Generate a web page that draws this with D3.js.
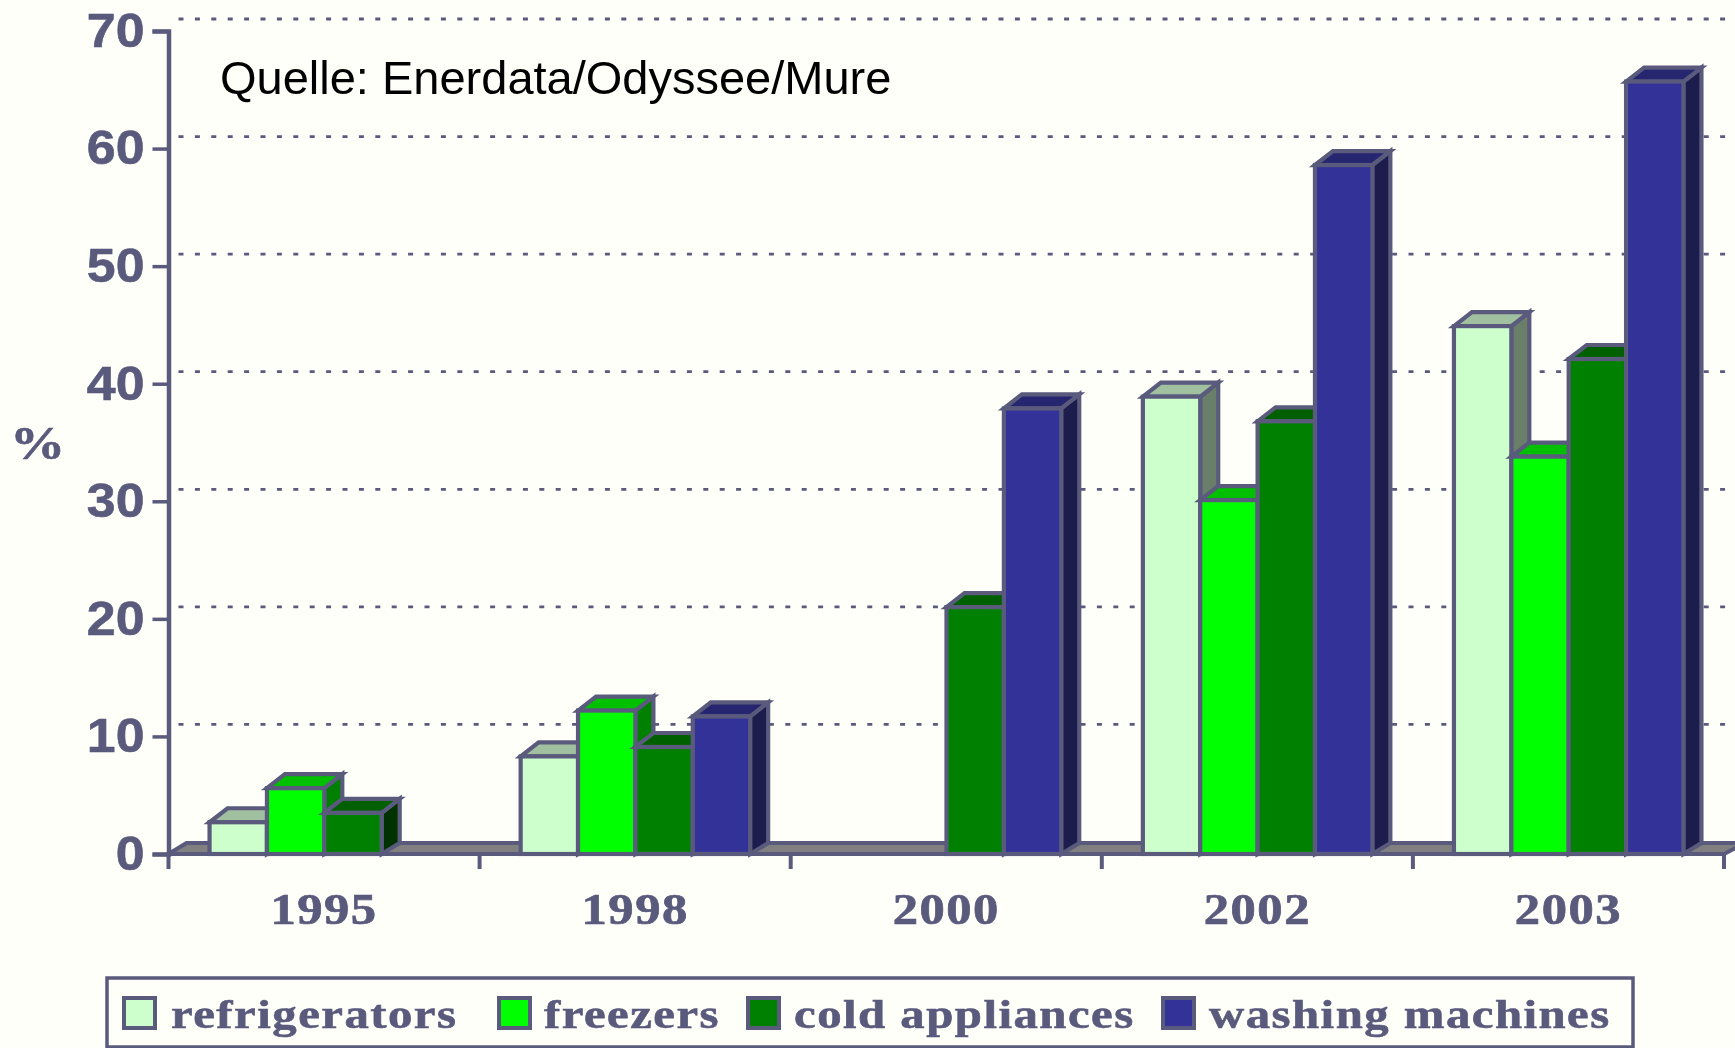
<!DOCTYPE html>
<html><head><meta charset="utf-8">
<script src="https://cdn.jsdelivr.net/npm/d3@7/dist/d3.min.js"></script>
<style>html,body{margin:0;padding:0;background:#fffffa;overflow:hidden}svg{display:block}</style>
</head><body><svg id="c" width="1735" height="1048"></svg>
<script>
const categories=["1995","1998","2000","2002","2003"];
const seriesNames=["refrigerators","freezers","cold appliances","washing machines"];
const refrigerators=[2.7,8.3,null,38.9,44.9];
const freezers=[5.6,12.2,null,30.1,33.8];
const coldAppliances=[3.5,9.1,21,36.8,42.1];
const washingMachines=[null,11.7,37.9,58.6,65.7];
const yTicks=[0,10,20,30,40,50,60,70];
const seriesValues=[refrigerators,freezers,coldAppliances,washingMachines];
const fronts=["#ccffcc","#00ff00","#008000","#333399"];
const tops=["#a0c0a0","#00c000","#006000","#26266f"];
const sides=["#6b7f6b","#008000","#003300","#1a1a4d"];
const ink="#5a5a7d";
const svg=d3.select("#c");
const defs=svg.append("defs");
defs.append("filter").attr("id","soft").attr("filterUnits","userSpaceOnUse").attr("x",0).attr("y",0).attr("width",1735).attr("height",1048)
  .append("feGaussianBlur").attr("stdDeviation",0.7);
const root=svg.append("g").attr("filter","url(#soft)");
const x=d3.scaleBand().domain(categories).range([168.5,1724]);
const y=d3.scaleLinear().domain([0,70]).range([854,31]);
const bar=d3.scaleBand().domain(d3.range(4)).range([-114.5,115]);
const dx=18,dy=14,fy=11,sw=4.2;
// grid
root.append("g").selectAll("path").data(yTicks.slice(1)).join("path")
  .attr("d",d=>`M${x.range()[0]+10},${y(d)-dy+2}L${x.range()[0]+18},${y(d)-fy-1}H1735`)
  .attr("fill","none").attr("stroke",ink).attr("stroke-width",2.8).attr("stroke-dasharray","5 11.4");
// floor
root.append("path").attr("d",`M${x.range()[0]},${y(0)}L${x.range()[0]+dx},${y(0)-fy}H1745L1724,${y(0)}Z`)
  .attr("fill","#808080").attr("stroke",ink).attr("stroke-width",sw);
// bars
seriesValues.forEach((vals,s)=>{
  const g=root.append("g");
  categories.forEach((c,i)=>{
    const v=vals[i]; if(v==null) return;
    const x0=x(c)+x.bandwidth()/2+bar(s),w=bar.bandwidth(),t=y(v),b=y(0);
    g.append("path").attr("d",`M${x0+w},${t}l${dx},${-dy}V${b-fy}L${x0+w},${b}Z`).attr("fill",sides[s]).attr("stroke",ink).attr("stroke-width",sw);
    g.append("path").attr("d",`M${x0},${t}l${dx},${-dy}h${w}l${-dx},${dy}Z`).attr("fill",tops[s]).attr("stroke",ink).attr("stroke-width",sw);
    g.append("rect").attr("x",x0).attr("y",t).attr("width",w).attr("height",b-t).attr("fill",fronts[s]).attr("stroke",ink).attr("stroke-width",sw);
  });
});
// axes
const ax=root.append("g").attr("transform",`translate(168.5,0)`).call(d3.axisLeft(y).tickValues(yTicks).tickSize(16).tickPadding(8));
ax.select(".domain").attr("stroke",ink).attr("stroke-width",4.5);
ax.selectAll("line").attr("stroke",ink).attr("stroke-width",3.5);
ax.selectAll("text").attr("fill",ink).attr("stroke",ink).attr("stroke-width",0.6).attr("font-family","Liberation Sans").attr("font-weight","bold").attr("font-size",48)
  .attr("transform","translate(-24,0) scale(1.08,1) translate(24,0)");
const xTickAt=[...categories.map(c=>x(c)),x.range()[1]];
root.append("g").selectAll("line").data(xTickAt).join("line").attr("x1",d=>d).attr("x2",d=>d).attr("y1",854).attr("y2",869).attr("stroke",ink).attr("stroke-width",4);
const xa=root.append("g").attr("transform","translate(0,854)").call(d3.axisBottom(x).tickSize(0).tickPadding(0));
xa.select(".domain").remove();
xa.selectAll("text").attr("y",0).attr("dy",null).attr("fill",ink).attr("stroke",ink).attr("stroke-width",0.7).attr("font-family","Liberation Serif").attr("font-weight","bold").attr("font-size",44).attr("letter-spacing",1.3)
  .attr("transform","translate(0,70) scale(1.15,1)");
root.append("text").text("%").attr("transform","translate(10,459) scale(1.2,1)").attr("fill",ink).attr("stroke",ink).attr("stroke-width",0.6).attr("font-family","Liberation Serif").attr("font-weight","bold").attr("font-size",46);
// legend
root.append("rect").attr("x",107).attr("y",978).attr("width",1526).attr("height",69).attr("fill","none").attr("stroke",ink).attr("stroke-width",3.5);
const swatchX=[124,499,748,1163],labelX=[171,544,794,1209];
seriesNames.forEach((n,s)=>{
  root.append("rect").attr("x",swatchX[s]).attr("y",998).attr("width",31).attr("height",30).attr("fill",fronts[s]).attr("stroke",ink).attr("stroke-width",4);
  root.append("text").text(n).attr("transform",`translate(${labelX[s]},1028) scale(1.25,1)`).attr("fill",ink).attr("stroke",ink).attr("stroke-width",0.6).attr("font-family","Liberation Serif").attr("font-weight","bold").attr("font-size",39).attr("letter-spacing",1.2);
});
svg.append("text").text("Quelle: Enerdata/Odyssee/Mure").attr("x",220).attr("y",94).attr("fill","#000").attr("font-family","Liberation Sans").attr("font-size",47);
</script></body></html>
